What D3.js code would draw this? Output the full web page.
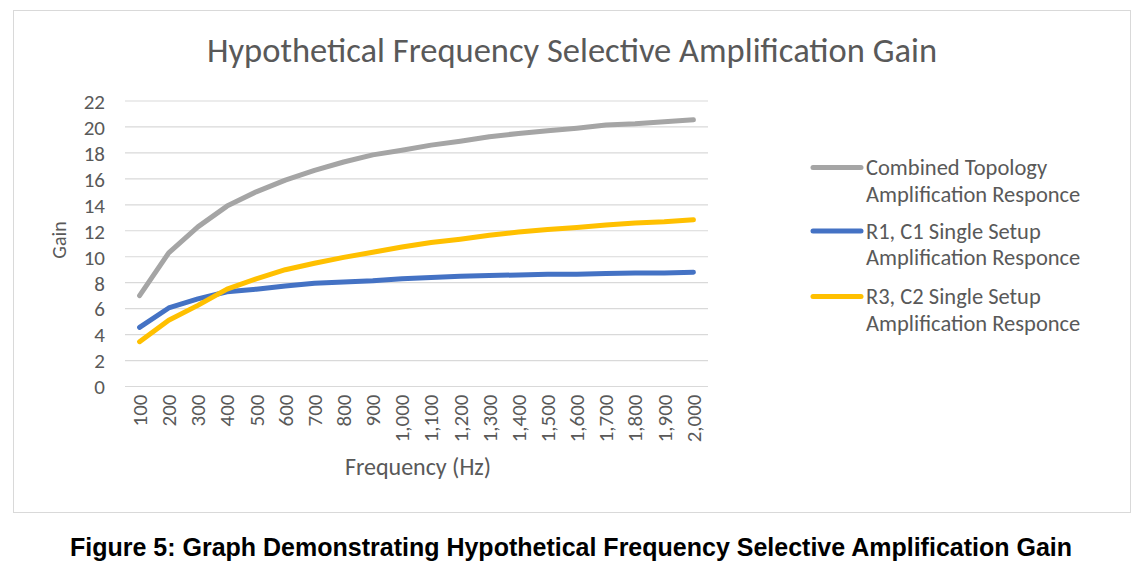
<!DOCTYPE html>
<html><head><meta charset="utf-8">
<script src="https://cdn.jsdelivr.net/npm/d3@7/dist/d3.min.js"></script>
<style>body{margin:0;background:#fff;} svg{display:block;}</style>
</head><body>
<svg id="c" width="1145" height="577"></svg>
<script>
const categories = [100,200,300,400,500,600,700,800,900,1000,1100,1200,1300,1400,1500,1600,1700,1800,1900,2000];
const combined = [7.0,10.3,12.3,13.9,15.0,15.9,16.65,17.3,17.85,18.2,18.6,18.9,19.25,19.5,19.7,19.9,20.15,20.25,20.4,20.55];
const r1c1 = [4.55,6.05,6.75,7.3,7.5,7.75,7.95,8.05,8.15,8.3,8.4,8.5,8.55,8.6,8.65,8.65,8.7,8.75,8.75,8.8];
const r3c2 = [3.45,5.1,6.25,7.5,8.3,9.0,9.5,9.95,10.35,10.75,11.1,11.35,11.65,11.9,12.1,12.25,12.45,12.6,12.7,12.85];
const yTicks = [0,2,4,6,8,10,12,14,16,18,20,22];
const seriesNames = [["Combined Topology","Amplification Responce"],["R1, C1 Single Setup","Amplification Responce"],["R3, C2 Single Setup","Amplification Responce"]];
const colors = ["#A5A5A5","#4472C4","#FFC000"];
const title = "Hypothetical Frequency Selective Amplification Gain";
const caption = "Figure 5: Graph Demonstrating Hypothetical Frequency Selective Amplification Gain";

const series = [combined, r1c1, r3c2];
const svg = d3.select("#c");
const font = "Calibri, Carlito, 'Open Sans', sans-serif";
const txt = "#595959";

svg.append("rect").attr("x",13.5).attr("y",10.5).attr("width",1117).attr("height",502)
  .attr("fill","#fff").attr("stroke","#D9D9D9").attr("stroke-width",1);

const x = d3.scaleBand().domain(categories).range([125,708]);
const y = d3.scaleLinear().domain([0,22]).range([386.5,101]);

// gridlines
svg.append("g").selectAll("line").data(yTicks).join("line")
  .attr("x1",125).attr("x2",708).attr("y1",d=>y(d)).attr("y2",d=>y(d))
  .attr("stroke","#D9D9D9").attr("stroke-width",1.2);

// y axis labels
const yAxis = d3.axisLeft(y).tickValues(yTicks).tickSize(0).tickPadding(0);
const gy = svg.append("g").attr("transform","translate(105,0)").call(yAxis);
gy.select(".domain").remove();
gy.selectAll("text").attr("font-family",font).attr("font-size",21).attr("fill",txt).attr("dy","0.35em");

// x axis labels
const xAxis = d3.axisBottom(x).tickSize(0).tickFormat(d3.format(","));
const gx = svg.append("g").attr("transform","translate(0,386.5)").call(xAxis);
gx.select(".domain").remove();
gx.selectAll("text").attr("font-family",font).attr("font-size",21).attr("fill",txt)
  .attr("text-anchor","end").attr("transform","rotate(-90)").attr("x",-8).attr("y",0).attr("dy","0.35em");

// lines
const line = d3.line().x((d,i)=>x(categories[i])+x.bandwidth()/2).y(d=>y(d));
svg.append("g").selectAll("path").data(series).join("path")
  .attr("d",line).attr("fill","none").attr("stroke",(d,i)=>colors[i])
  .attr("stroke-width",5).attr("stroke-linecap","round").attr("stroke-linejoin","round");

// title
svg.append("text").attr("x",572).attr("y",62).attr("text-anchor","middle")
  .attr("font-family",font).attr("font-size",34.5).attr("fill",txt).text(title);

// axis titles
svg.append("text").attr("transform","translate(66,240) rotate(-90)").attr("text-anchor","middle")
  .attr("font-family",font).attr("font-size",20).attr("fill",txt).text("Gain");
svg.append("text").attr("x",418).attr("y",475).attr("text-anchor","middle")
  .attr("font-family",font).attr("font-size",24).attr("fill",txt).text("Frequency (Hz)");

// legend
const ly = [167.5,231,296.5];
const lg = svg.append("g");
seriesNames.forEach((names,i)=>{
  lg.append("line").attr("x1",813).attr("x2",861).attr("y1",ly[i]).attr("y2",ly[i])
    .attr("stroke",colors[i]).attr("stroke-width",5).attr("stroke-linecap","round");
  names.forEach((n,j)=>{
    lg.append("text").attr("x",866).attr("y",ly[i]+j*26.5).attr("dy","0.35em")
      .attr("font-family",font).attr("font-size",22.5).attr("fill",txt).text(n);
  });
});

// caption
svg.append("text").attr("x",571).attr("y",556).attr("text-anchor","middle")
  .attr("font-family","Arial, 'Liberation Sans', sans-serif").attr("font-weight","bold")
  .attr("font-size",25).attr("fill","#000").text(caption);
</script>
</body></html>
